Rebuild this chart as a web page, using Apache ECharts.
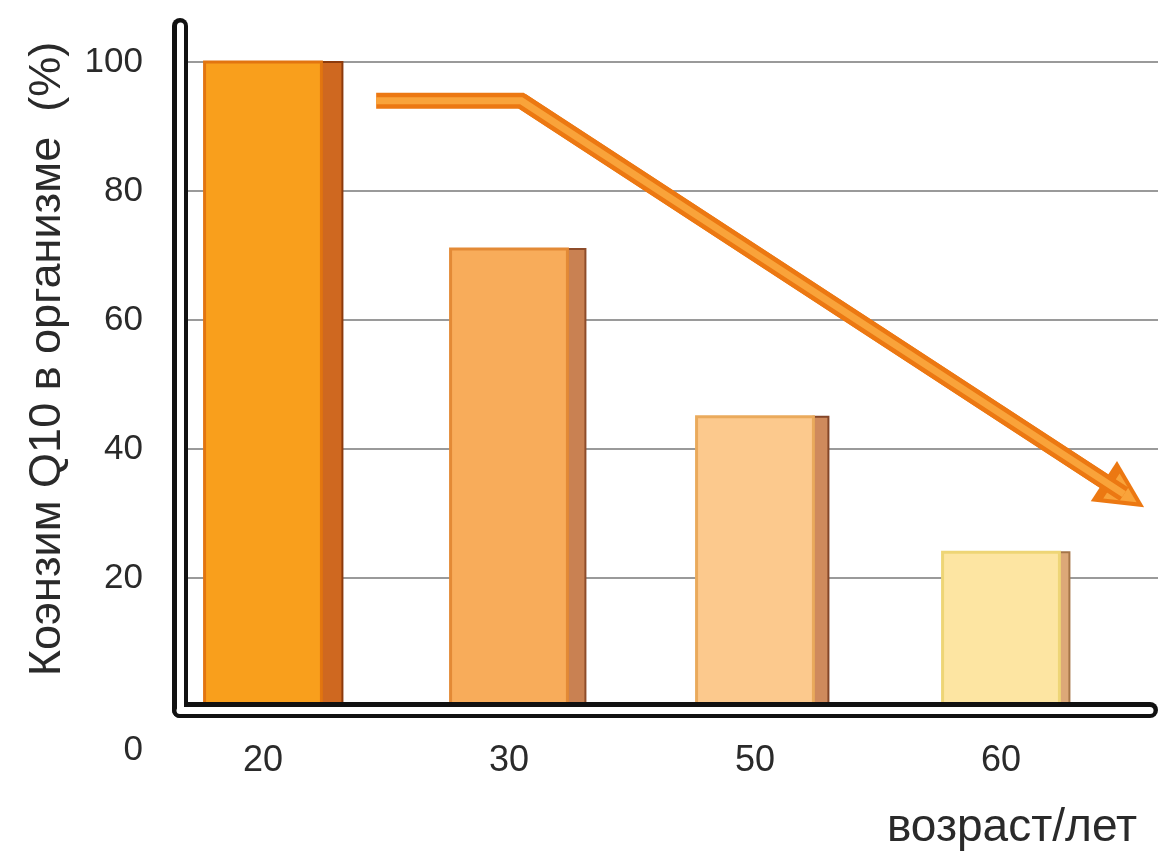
<!DOCTYPE html>
<html>
<head>
<meta charset="utf-8">
<script src="https://cdn.jsdelivr.net/npm/echarts@6/dist/echarts.min.js"></script>
<style>
html,body{margin:0;padding:0;background:#fff;}
#c{width:1164px;height:853px;}
</style>
</head>
<body>
<div id="c"></div>
<script>
// ---- data ----
const categories = ['20', '30', '50', '60'];
const q10Values = [100, 71, 45, 24];
const yTicks = [0, 20, 40, 60, 80, 100];
// decorative trend arrow path (x in category units, y in %)
const arrowX = [0.46, 1.05, 3.5];
const arrowY = [94, 94, 33];
const yTitle = 'Коэнзим Q10 в организме  (%)';
const xTitle = 'возраст/лет';

// ---- styles ----
const FONT = '"Liberation Sans", Arial, sans-serif';
const TEXT = '#2a2a2a';
const faceColors = ['#F99F1C', '#F8AC5A', '#FCC98D', '#FDE5A2'];
const faceEdges  = ['#E27510', '#E38A36', '#EAAA5C', '#EED576'];
const sideColors = ['#CF6820', '#C98152', '#CF8A5C', '#DCA878'];
const sideEdges  = ['#8C3A0C', '#8E4C2A', '#844628', '#A57548'];
const sideWidths = [21, 18, 15, 10];

const chart = echarts.init(document.getElementById('c'));

function frameAxis(gi, color, width, z, extra) {
  return Object.assign({
    gridIndex: gi, type: 'value', min: 0, max: 1, z: z,
    axisLine: { show: true, onZero: false, lineStyle: { color: color, width: width, cap: 'round' } },
    axisTick: { show: false }, axisLabel: { show: false }, splitLine: { show: false }
  }, extra || {});
}

const barData = q10Values.map((v, i) => [i, v]);
const arrowData = arrowX.map((x, i) => [x, arrowY[i]]);
const last = arrowData.length - 1;

function arrowSeries(color, width, headSize, z) {
  return {
    type: 'line', xAxisIndex: 4, yAxisIndex: 3, z: z,
    data: arrowData, symbol: 'none', clip: false, silent: true,
    lineStyle: { color: color, width: width, cap: 'butt', join: 'miter' },
    markLine: {
      silent: true, animation: false,
      symbol: ['none', 'triangle'], symbolSize: headSize,
      label: { show: false },
      itemStyle: { color: color },
      lineStyle: { color: color, width: width, type: 'solid' },
      emphasis: { disabled: true },
      data: [[{ coord: arrowData[last - 1] }, { coord: arrowData[last] }]]
    }
  };
}

const option = {
  backgroundColor: '#fff',
  animation: false,
  title: {
    text: xTitle, right: 22, top: 800,
    textStyle: { fontFamily: FONT, fontSize: 46, fontWeight: 'normal', color: TEXT }
  },
  grid: [
    { left: 180, right: 14, top: 26, bottom: 143 },   // frame (black)
    { left: 180, right: 14, top: 26, bottom: 143 },   // frame (white core)
    { left: 180, right: 6, top: 62, bottom: 146 },    // gridlines + y labels
    { left: 140, right: 40, top: 62, bottom: 146 }    // bars
  ],
  xAxis: [
    frameAxis(0, '#111', 16, 10),
    frameAxis(1, '#fff', 7, 11),
    { gridIndex: 2, type: 'value', min: 0, max: 1, show: false },
    {
      gridIndex: 3, type: 'category', data: categories,
      axisLine: { show: false }, axisTick: { show: false }, splitLine: { show: false },
      axisLabel: { margin: 36, fontFamily: FONT, fontSize: 36, color: TEXT }
    },
    { gridIndex: 3, type: 'value', min: -0.5, max: 3.5, show: false }
  ],
  yAxis: [
    frameAxis(0, '#111', 16, 10, {
      name: yTitle, nameLocation: 'middle', nameRotate: 90, nameGap: 110,
      nameTextStyle: { fontFamily: FONT, fontSize: 45, color: TEXT, padding: [0, 0, 0, 18] }
    }),
    frameAxis(1, '#fff', 7, 11),
    {
      gridIndex: 2, type: 'value',
      min: yTicks[0], max: yTicks[yTicks.length - 1], interval: yTicks[1] - yTicks[0],
      axisLine: { show: false }, axisTick: { show: false },
      splitLine: { show: true, showMinLine: false, lineStyle: { color: '#9a9a9a', width: 2 } },
      axisLabel: {
        margin: 37, fontFamily: FONT, fontSize: 35, color: TEXT,
        formatter: v => v === 0 ? '{z|0}' : String(v),
        rich: { z: { fontFamily: FONT, fontSize: 35, color: TEXT, padding: [86, 0, 0, 0] } }
      }
    },
    {
      gridIndex: 3, type: 'value',
      min: yTicks[0], max: yTicks[yTicks.length - 1], interval: yTicks[1] - yTicks[0],
      show: false
    }
  ],
  series: [
    {
      type: 'custom', xAxisIndex: 3, yAxisIndex: 3, z: 3,
      data: barData, encode: { x: 0, y: 1 }, silent: true,
      renderItem: function (params, api) {
        const idx = params.dataIndex;
        const ci = api.value(0), v = api.value(1);
        const p = api.coord([ci, v]);
        const b = api.coord([ci, 0]);
        const band = api.size([1, 0])[0];
        const fw = band * 0.475;
        const sw = sideWidths[idx];
        const x0 = p[0] - fw / 2;
        const h = b[1] - p[1];
        return {
          type: 'group',
          children: [
            { type: 'rect', shape: { x: x0 + fw, y: p[1], width: sw, height: h },
              style: { fill: sideColors[idx], stroke: sideEdges[idx], lineWidth: 2 } },
            { type: 'rect', shape: { x: x0, y: p[1], width: fw, height: h },
              style: { fill: faceColors[idx], stroke: faceEdges[idx], lineWidth: 3 } }
          ]
        };
      }
    },
    arrowSeries('#EC7812', 16, 48, 5),
    arrowSeries('#F9A33A', 7, 30, 6)
  ]
};

chart.setOption(option);
</script>
</body>
</html>
